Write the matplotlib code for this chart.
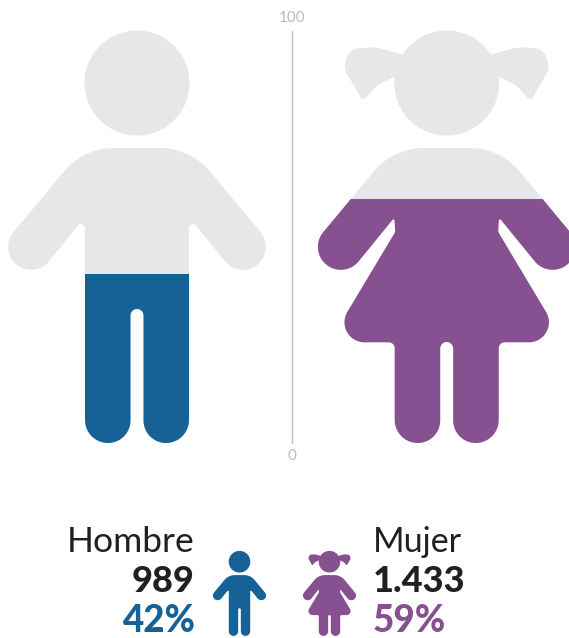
import matplotlib
matplotlib.use("Agg")
import matplotlib.pyplot as plt
import numpy as np
from matplotlib.patches import Polygon, Circle, Rectangle

categories = ["Hombre", "Mujer"]
counts = ["989", "1.433"]
percent_labels = ["42%", "59%"]
fill_levels = [41, 59.2]
colors = ["#166296", "#865091"]
axis_labels = ["100", "0"]

GREY = "#e6e7e8"
INK = "#231f20"
FONT = "Lato"

# pixel position of the 0 and 100 marks of the scale
Y0, Y100 = 443, 31


def level_y(v):
    return Y0 - (Y0 - Y100) * v / 100


def fillet(verts):
    # closed outline with a circular arc at each (x, y, r) corner
    out = []
    n = len(verts)
    for i in range(n):
        p = np.array(verts[i][:2], float)
        r = verts[i][2]
        if r == 0:
            out.append(p)
            continue
        a = np.array(verts[i - 1][:2], float) - p
        b = np.array(verts[(i + 1) % n][:2], float) - p
        a /= np.linalg.norm(a)
        b /= np.linalg.norm(b)
        ang = np.arccos(np.clip(a @ b, -1, 1))
        d = r / np.tan(ang / 2)
        bis = (a + b) / np.linalg.norm(a + b)
        c = p + bis * r / np.sin(ang / 2)
        s = p + a * d - c
        e = p + b * d - c
        t0 = np.arctan2(s[1], s[0])
        t1 = np.arctan2(e[1], e[0])
        dt = (t1 - t0 + np.pi) % (2 * np.pi) - np.pi
        for t in np.linspace(t0, t0 + dt, 24):
            out.append(c + r * np.array([np.cos(t), np.sin(t)]))
    return np.array(out)


def mirror(half):
    # half outline is given left of centre, x measured from centre
    return half + [(-x, y, r) for x, y, r in reversed(half)]


shoulder = [(-53.5, 148, 65), (-138.3, 250, 23), (-102.6, 279.2, 23)]
boy_half = shoulder + [(-52, 216.9, 4), (-52, 443, 23), (-6.5, 443, 22.5), (-6.5, 309, 6.5)]
girl_half = shoulder + [(-52.3, 217.5, 1.2), (-51.5, 232, 6), (-117.5, 342.3, 20), (-52, 342.3, 6),
                        (-52, 443, 23), (-6.5, 443, 22.5), (-6.5, 342, 6.5)]
pigtail = [(-30, 70, 0), (-45, 54.3, 0), (-72, 47, 40), (-97, 49, 13), (-103, 68, 14), (-84, 101, 3),
           (-69, 85, 0), (-53, 77, 0)]


def draw_person(ax, cx, top, scale, kind, color, level=None):
    # level None draws the whole icon in one colour
    def place(pts):
        pts = np.asarray(pts, float)
        return np.column_stack([cx + pts[:, 0] * scale, top + (pts[:, 1] - Y100) * scale])

    half = boy_half if kind == 0 else girl_half
    parts = [Polygon(place(fillet(mirror(half))))]
    head_c = place([(0, 83)])[0]
    parts.append(Circle(head_c, 52.5 * scale))
    if kind == 1:
        left = fillet(pigtail)
        parts.append(Polygon(place(left)))
        parts.append(Polygon(place(left * [-1, 1])))

    if level is None:
        for p in parts:
            p.set(fc=color, ec="none")
            ax.add_patch(p)
        return

    clip = Rectangle((cx - 200, level_y(level)), 400, Y0 + 5 - level_y(level), transform=ax.transData)
    for p in parts:
        p.set(fc=GREY, ec="none")
        ax.add_patch(p)
    for p in parts:
        q = Polygon(p.get_xy()) if isinstance(p, Polygon) else Circle(p.center, p.radius)
        q.set(fc=color, ec="none")
        ax.add_patch(q)
        q.set_clip_path(clip)


fig = plt.figure(figsize=(5.69, 6.38), dpi=100)
ax = fig.add_axes([0, 0, 1, 1])
ax.set_xlim(0, 569)
ax.set_ylim(638, 0)
ax.axis("off")

# big pictograms filled up to their level
draw_person(ax, 137, Y100, 1, 0, colors[0], fill_levels[0])
draw_person(ax, 446.7, Y100, 1, 1, colors[1], fill_levels[1])

# scale in the middle
ax.plot([292, 292], [level_y(100), level_y(0)], color="#bcbec0", lw=1)
ax.text(292, 18, axis_labels[0], ha="center", va="center", color="#b9bbbd", fontsize=11, family=FONT)
ax.text(292, 455.5, axis_labels[1], ha="center", va="center", color="#b9bbbd", fontsize=11, family=FONT)

# legend block
draw_person(ax, 239.5, 551, 0.206, 0, colors[0])
draw_person(ax, 329.5, 551, 0.206, 1, colors[1])

ax.text(195, 542, categories[0], ha="right", va="center", color=INK, fontsize=25.5, family=FONT)
ax.text(373, 542, categories[1], ha="left", va="center", color=INK, fontsize=24.5, family=FONT)
ax.text(195, 581, counts[0], ha="right", va="center", color=INK, fontsize=26, family=FONT, weight="black")
ax.text(373, 581, counts[1], ha="left", va="center", color=INK, fontsize=26, family=FONT, weight="black")
ax.text(195, 621, percent_labels[0], ha="right", va="center", color=colors[0], fontsize=26.5, family=FONT, weight="black")
ax.text(373, 621, percent_labels[1], ha="left", va="center", color=colors[1], fontsize=26.5, family=FONT, weight="black")

fig.savefig("out.png", dpi=100)
